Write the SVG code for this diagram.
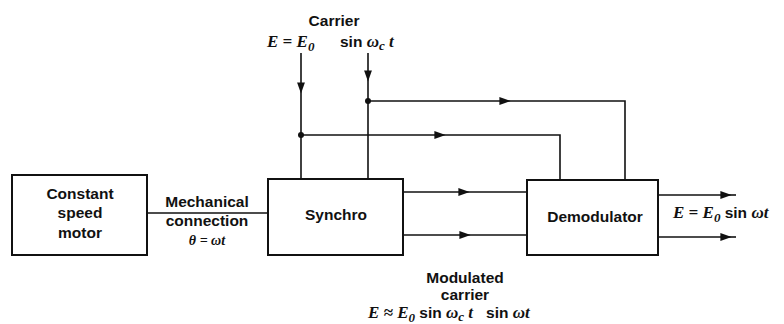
<svg xmlns="http://www.w3.org/2000/svg" width="784" height="324" viewBox="0 0 784 324">
<style>
.box{fill:#fff;stroke:#111;stroke-width:2}
.ln{fill:none;stroke:#111;stroke-width:1.6}
.t{font-family:"Liberation Sans",Arial,sans-serif;font-size:15.5px;font-weight:bold;fill:#111}
.m{font-family:"Liberation Serif","Times New Roman",serif;font-style:italic;font-weight:bold;font-size:17px;fill:#111}
.sub{font-size:13px}
.sm{font-size:14px}
</style>
<defs>
<marker id="ar" viewBox="0 0 10 10" refX="5" refY="5" markerWidth="7" markerHeight="7" orient="auto">
<path d="M0,1.5 L10,5 L0,8.5 Z" fill="#111"/>
</marker>
</defs>
<rect width="784" height="324" fill="#fff"/>
<g id="connectors">
<line class="ln" x1="147" y1="213" x2="268" y2="213"/>
<path class="ln" d="M301,53 V88" marker-end="url(#ar)"/>
<path class="ln" d="M301,88 V179"/>
<path class="ln" d="M368,53 V76" marker-end="url(#ar)"/>
<path class="ln" d="M368,76 V179"/>
<path class="ln" d="M368,101 H505" marker-end="url(#ar)"/>
<path class="ln" d="M505,101 H625 V180"/>
<path class="ln" d="M301,135 H440" marker-end="url(#ar)"/>
<path class="ln" d="M440,135 H560 V180"/>
<path class="ln" d="M403,192 H464" marker-end="url(#ar)"/>
<path class="ln" d="M464,192 H527"/>
<path class="ln" d="M403,235 H465" marker-end="url(#ar)"/>
<path class="ln" d="M465,235 H527"/>
<path class="ln" d="M658,195 H726" marker-end="url(#ar)"/>
<path class="ln" d="M726,195 H736"/>
<path class="ln" d="M658,237 H726" marker-end="url(#ar)"/>
<path class="ln" d="M726,237 H736"/>
<circle cx="368" cy="101" r="3" fill="#111"/>
<circle cx="301" cy="135" r="3" fill="#111"/>
</g>
<g id="motor">
<rect class="box" x="12" y="175" width="135" height="80"/>
<text class="t" x="80" y="199" text-anchor="middle">Constant</text>
<text class="t" x="80" y="218" text-anchor="middle">speed</text>
<text class="t" x="80" y="238" text-anchor="middle">motor</text>
</g>
<g id="synchro">
<rect class="box" x="268" y="179" width="135" height="76"/>
<text class="t" x="336" y="220" text-anchor="middle">Synchro</text>
</g>
<g id="demodulator">
<rect class="box" x="527" y="180" width="131" height="75"/>
<text class="t" x="595" y="222" text-anchor="middle">Demodulator</text>
</g>
<g id="labels">
<text class="t" x="207" y="207" text-anchor="middle">Mechanical</text>
<text class="t" x="207" y="226" text-anchor="middle">connection</text>
<text class="m sm" x="207" y="245" text-anchor="middle">θ = ωt</text>
<text class="t" x="334" y="26" text-anchor="middle">Carrier</text>
<text x="267" y="47" xml:space="preserve"><tspan class="m">E = E</tspan><tspan class="m sub" dy="4">0</tspan></text>
<text x="340" y="47" xml:space="preserve"><tspan class="t">sin </tspan><tspan class="m">ω</tspan><tspan class="m sub" dy="3">c</tspan><tspan class="m" dy="-3"> t</tspan></text>
<text x="673" y="218" xml:space="preserve"><tspan class="m">E = E</tspan><tspan class="m sub" dy="4">0</tspan><tspan class="t" dy="-4"> sin </tspan><tspan class="m">ωt</tspan></text>
<text class="t" x="465" y="283" text-anchor="middle">Modulated</text>
<text class="t" x="465" y="300" text-anchor="middle">carrier</text>
<text x="368" y="318" xml:space="preserve"><tspan class="m">E ≈ E</tspan><tspan class="m sub" dy="4">0</tspan><tspan class="t" dy="-4"> sin </tspan><tspan class="m">ω</tspan><tspan class="m sub" dy="3">c</tspan><tspan class="m" dy="-3"> t</tspan><tspan class="t">   sin </tspan><tspan class="m">ωt</tspan></text>
</g>
</svg>
